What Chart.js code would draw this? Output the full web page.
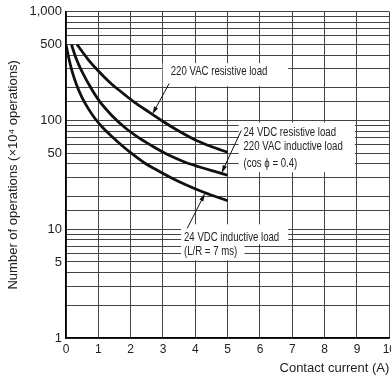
<!DOCTYPE html>
<html>
<head>
<meta charset="utf-8">
<script src="https://cdn.jsdelivr.net/npm/chart.js@4/dist/chart.umd.min.js"></script>
<style>
  html, body { margin: 0; padding: 0; background: #fff; overflow: hidden; }
  #wrap { width: 400px; height: 376px; }
</style>
</head>
<body>
<div id="wrap"><canvas id="c" width="400" height="376"></canvas></div>
<script>
// curves: x = contact current (A), y = operations (x10^4)
const acResX = [0.34, 0.68, 0.98, 1.35, 1.72, 2.12, 2.58, 3.04, 3.5, 4.02, 4.51, 5];
const acResY = [500, 366, 290, 225, 182, 147, 119, 96.5, 79.8, 65.9, 57.4, 51];
const dcResX = [0.17, 0.31, 0.49, 0.74, 1.04, 1.41, 1.81, 2.27, 2.73, 3.19, 3.65, 4.11, 4.57, 5];
const dcResY = [500, 374, 284, 207, 150, 112, 86.7, 68.8, 56.8, 47.9, 41.8, 37.6, 34.2, 31.4];
const dcIndX = [0, 0.08, 0.18, 0.32, 0.49, 0.68, 0.89, 1.14, 1.41, 1.72, 2.06, 2.42, 2.82, 3.25, 3.74, 4.26, 5];
const dcIndY = [500, 382, 290, 216, 164, 130, 105, 85.9, 71.7, 59.3, 49, 40.9, 34.9, 29.8, 25.4, 21.9, 18.3];

// labelled ticks on the log axis
const yLabelled = [1, 5, 10, 50, 100, 500, 1000];

const INK = '#222';
const GRID = '#444';

function pts(xs, ys) {
    return xs.map((x, i) => ({ x: x, y: ys[i] }));
}

// callouts: text lines, white boxes behind them, arrow start -> tip (data units)
const notes = [
    {
        lines: [['220 VAC resistive load', 3.24, 280]],
        boxes: [[2.99, 6.87, 337, 207]],
        arrow: [[3.19, 219], [2.67, 114]]
    },
    {
        lines: [['24 VDC resistive load', 5.49, 78.5],
                ['220 VAC inductive load', 5.49, 57.2],
                ['(cos \u03D5 = 0.4)', 5.49, 40.2]],
        boxes: [[5.34, 8.93, 96, 33.5]],
        arrow: [[5.42, 81], [4.81, 32.8]]
    },
    {
        lines: [['24 VDC inductive load', 3.65, 8.5],
                ['(L/R = 7 ms)', 3.65, 6.2]],
        boxes: [[3.56, 6.87, 11.1, 7.28], [3.56, 5.52, 7.28, 5.19]],
        arrow: [[3.75, 10.2], [4.3, 21.4]]
    }
];

const notesPlugin = {
    id: 'notes',
    beforeDatasetsDraw(chart) {
        const { ctx, scales: { x, y } } = chart;
        ctx.save();
        ctx.fillStyle = '#fff';
        notes.forEach(n => n.boxes.forEach(b => {
            const x0 = x.getPixelForValue(b[0]), x1 = x.getPixelForValue(b[1]);
            const y0 = y.getPixelForValue(b[2]), y1 = y.getPixelForValue(b[3]);
            ctx.fillRect(x0, y0, x1 - x0, y1 - y0);
        }));
        ctx.restore();
    },
    afterDatasetsDraw(chart) {
        const { ctx, scales: { x, y } } = chart;
        ctx.save();
        ctx.fillStyle = INK;
        ctx.strokeStyle = '#111';
        ctx.font = '13px "Liberation Sans", Arial, sans-serif';
        ctx.textBaseline = 'middle';
        ctx.textAlign = 'left';
        notes.forEach(n => {
            n.lines.forEach(l => {
                ctx.save();
                ctx.translate(x.getPixelForValue(l[1]), y.getPixelForValue(l[2]));
                ctx.scale(0.74, 1); // condensed face like the original
                ctx.fillText(l[0], 0, 0);
                ctx.restore();
            });
            const sx = x.getPixelForValue(n.arrow[0][0]), sy = y.getPixelForValue(n.arrow[0][1]);
            const tx = x.getPixelForValue(n.arrow[1][0]), ty = y.getPixelForValue(n.arrow[1][1]);
            const a = Math.atan2(ty - sy, tx - sx);
            ctx.lineWidth = 1;
            ctx.beginPath();
            ctx.moveTo(sx, sy);
            ctx.lineTo(tx - 5 * Math.cos(a), ty - 5 * Math.sin(a));
            ctx.stroke();
            ctx.beginPath();
            ctx.moveTo(tx, ty);
            ctx.lineTo(tx - 8 * Math.cos(a) + 2.2 * Math.sin(a), ty - 8 * Math.sin(a) - 2.2 * Math.cos(a));
            ctx.lineTo(tx - 8 * Math.cos(a) - 2.2 * Math.sin(a), ty - 8 * Math.sin(a) + 2.2 * Math.cos(a));
            ctx.closePath();
            ctx.fillStyle = '#111';
            ctx.fill();
            ctx.fillStyle = INK;
        });
        ctx.restore();
    }
};

const curveStyle = {
    showLine: true,
    borderColor: '#111',
    borderWidth: 2.8,
    pointRadius: 0,
    cubicInterpolationMode: 'monotone',
    fill: false
};

new Chart(document.getElementById('c'), {
    type: 'scatter',
    data: {
        datasets: [
            { label: '220 VAC resistive load', data: pts(acResX, acResY), ...curveStyle },
            { label: '24 VDC resistive load / 220 VAC inductive load', data: pts(dcResX, dcResY), ...curveStyle },
            { label: '24 VDC inductive load', data: pts(dcIndX, dcIndY), ...curveStyle }
        ]
    },
    options: {
        responsive: false,
        animation: false,
        layout: { padding: { top: 4, right: 0, left: 0, bottom: 0 } },
        plugins: { legend: { display: false }, tooltip: { enabled: false } },
        scales: {
            x: {
                type: 'linear',
                min: 0,
                max: 10,
                ticks: {
                    stepSize: 1,
                    color: INK,
                    font: { family: '"Liberation Sans", Arial, sans-serif', size: 12 },
                    padding: 4,
                    maxRotation: 0
                },
                grid: { color: GRID, drawTicks: false },
                border: { color: '#000', width: 1.5 },
                title: {
                    display: true,
                    text: 'Contact current (A)',
                    align: 'end',
                    color: INK,
                    font: { family: '"Liberation Sans", Arial, sans-serif', size: 13 },
                    padding: { top: 8, bottom: 0 }
                },
                afterFit(scale) { scale.height = 38; }
            },
            y: {
                type: 'logarithmic',
                min: 1,
                max: 1000,
                ticks: {
                    autoSkip: false,
                    color: INK,
                    font: { family: '"Liberation Sans", Arial, sans-serif', size: 13 },
                    padding: 4,
                    callback: v => yLabelled.includes(v) ? v.toLocaleString('en-US') : ''
                },
                grid: { color: GRID, drawTicks: false },
                border: { color: '#000', width: 1.5 },
                title: {
                    display: true,
                    text: 'Number of operations (\u00D710\u2074 operations)',
                    color: INK,
                    font: { family: '"Liberation Sans", Arial, sans-serif', size: 13 },
                    padding: { top: 6, bottom: 0 }
                },
                afterFit(scale) { scale.width = 66; }
            }
        }
    },
    plugins: [notesPlugin]
});
</script>
</body>
</html>
